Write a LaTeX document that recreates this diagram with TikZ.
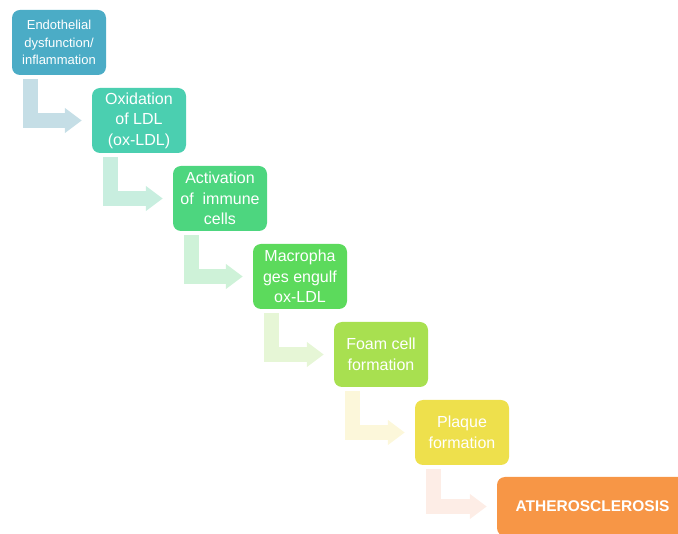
\documentclass[tikz,border=0pt]{standalone}
\usepackage{fontspec}
\setmainfont{Liberation Sans}
\usetikzlibrary{arrows.meta}

\definecolor{cEndo}{HTML}{4BACC6}
\definecolor{cOx}{HTML}{4BCFB0}
\definecolor{cAct}{HTML}{4DD67F}
\definecolor{cMac}{HTML}{5CDA5C}
\definecolor{cFoam}{HTML}{A8E050}
\definecolor{cPlaq}{HTML}{EEE04C}
\definecolor{cAth}{HTML}{F79646}
% pale arrow colours
\definecolor{aOne}{HTML}{C5DEE6}
\definecolor{aTwo}{HTML}{C8EEDF}
\definecolor{aThree}{HTML}{CEF2D8}
\definecolor{aFour}{HTML}{E6F6D6}
\definecolor{aFive}{HTML}{FCF7DA}
\definecolor{aSix}{HTML}{FDEDE6}

\begin{document}
\begin{tikzpicture}[x=1pt, y=-1pt,
  stepbox/.style={fill=#1, rounded corners=8pt, minimum width=94pt, minimum height=65pt,
    inner sep=0pt, align=center, text=white, font=\fontsize{16}{20.5}\selectfont},
  bent/.style={line width=15pt, draw=#1, -{Triangle[length=17pt, width=24pt]}}]

  \useasboundingbox (0,0) rectangle (678,534);
  \clip (0,0) rectangle (678,534);

  % the steps
  \node[stepbox=cEndo, font=\fontsize{13}{17.5}\selectfont] (endo) at (59,42.5)
    {Endothelial\\dysfunction/\\inflammation};
  \node[stepbox=cOx] (oxldl) at (139,120.5) {Oxidation\\of LDL\\(ox-LDL)};
  \node[stepbox=cAct] (immune) at (220,198.5) {Activation\\of\ \ immune\\cells};
  \node[stepbox=cMac] (macro) at (300,276.5) {Macropha\\ges engulf\\ox-LDL};
  \node[stepbox=cFoam] (foam) at (381,354.5) {Foam cell\\formation};
  \node[stepbox=cPlaq] (plaque) at (462,432.5) {Plaque\\formation};
  \node[stepbox=cAth, minimum width=191pt, minimum height=59pt,
    font=\fontsize{15.5}{19}\selectfont\bfseries] (athero) at (592.5,506.5) {ATHEROSCLEROSIS};

  % bent arrows
  \draw[bent=aOne] ([xshift=18.5pt, yshift=-4pt]endo.south west) |- ([xshift=-10pt]oxldl.west);
  \draw[bent=aTwo] ([xshift=18.5pt, yshift=-4pt]oxldl.south west) |- ([xshift=-10pt]immune.west);
  \draw[bent=aThree] ([xshift=18.5pt, yshift=-4pt]immune.south west) |- ([xshift=-10pt]macro.west);
  \draw[bent=aFour] ([xshift=18.5pt, yshift=-4pt]macro.south west) |- ([xshift=-10pt]foam.west);
  \draw[bent=aFive] ([xshift=18.5pt, yshift=-4pt]foam.south west) |- ([xshift=-10pt]plaque.west);
  \draw[bent=aSix] ([xshift=18.5pt, yshift=-4pt]plaque.south west) |- ([xshift=-10pt]athero.west);

\end{tikzpicture}
\end{document}
